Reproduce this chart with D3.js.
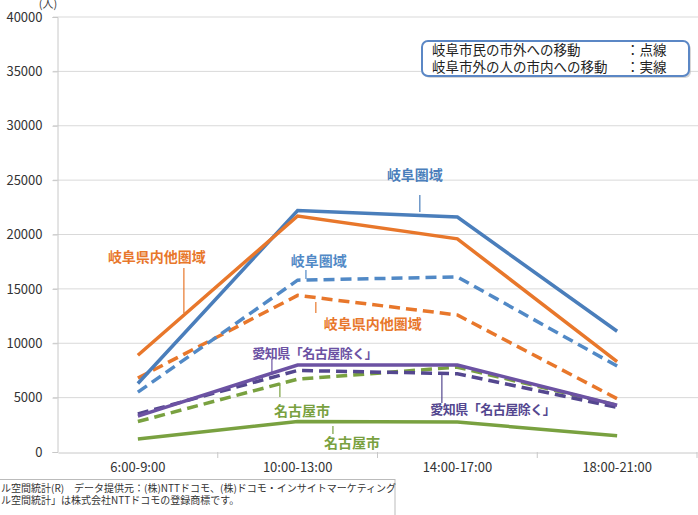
<!DOCTYPE html>
<html>
  <head>
    <meta charset="utf-8">
    <title>岐阜市 移動人口</title>
    <style>
      body { margin: 0; background: #fff; }
      text { font-family: "Noto Sans CJK JP", "Noto Sans", sans-serif; }
      .tick text { fill: #333; font-size: 13px; }
    </style>
    <script src="https://d3js.org/d3.v7.min.js"></script>
  </head>
  <body>
    <div id="chart"></div>
    <script type="text/javascript">
      // categories and values (人)
      var categories = ["6:00-9:00", "10:00-13:00", "14:00-17:00", "18:00-21:00"];
      var yTicks = [0, 5000, 10000, 15000, 20000, 25000, 30000, 35000, 40000];

      // 岐阜市外の人の市内への移動 (solid)
      var gifuIn      = [6300, 22200, 21600, 11100];
      var gifuPrefIn  = [8900, 21700, 19600, 8300];
      var aichiIn     = [3300, 8000, 8000, 4300];
      var nagoyaIn    = [1200, 2800, 2750, 1500];
      // 岐阜市民の市外への移動 (dashed)
      var gifuOut     = [5500, 15800, 16100, 7900];
      var gifuPrefOut = [6800, 14400, 12600, 4900];
      var aichiOut    = [3500, 7500, 7200, 4100];
      var nagoyaOut   = [2800, 6700, 7800, 4300];

      var legendLines = ["岐阜市民の市外への移動", "岐阜市外の人の市内への移動"];
      var legendKinds = ["：点線", "：実線"];
      var notes = ["ル空間統計(R)　データ提供元：(株)NTTドコモ、(株)ドコモ・インサイトマーケティング",
                   "ル空間統計」は株式会社NTTドコモの登録商標です。"];

      var width = 698, height = 515;
      var blue = "#4a7ebb", blueD = "#5189c6", orange = "#e8772b",
          purple = "#6c52a3", purpleD = "#54478f", green = "#79a140";

      var series = [
        {v: nagoyaIn, c: green, dash: null},
        {v: nagoyaOut, c: green, dash: "11,6"},
        {v: aichiOut, c: purpleD, dash: "11,6"},
        {v: aichiIn, c: purple, dash: null},
        {v: gifuPrefOut, c: orange, dash: "11,6"},
        {v: gifuOut, c: blueD, dash: "11,6"},
        {v: gifuIn, c: blue, dash: null},
        {v: gifuPrefIn, c: orange, dash: null}
      ];

      // label: text, colour, text position (category index, value), leader (index, from, to)
      var labels = [
        {t: "岐阜圏域", c: blue, ix: 1.734, ty: 25470, lx: 1.765, l1: 23630, l2: 22070},
        {t: "岐阜県内他圏域", c: orange, ix: 0.119, ty: 17930, lx: 0.288, l1: 16920, l2: 12780},
        {t: "岐阜圏域", c: blueD, ix: 1.133, ty: 17560, lx: 1.052, l1: 16740, l2: 15910},
        {t: "岐阜県内他圏域", c: orange, ix: 1.471, ty: 11770, lx: 1.114, l1: 13790, l2: 12780},
        {t: "愛知県「名古屋除く」", c: purple, ix: 1.108, ty: 9100, lx: 0.839, l1: 8550, l2: 7260},
        {t: "名古屋市", c: green, ix: 1.027, ty: 3770, lx: 0.889, l1: 6340, l2: 5060},
        {t: "名古屋市", c: green, ix: 1.340, ty: 830, lx: 1.221, l1: 2390, l2: 1660},
        {t: "愛知県「名古屋除く」", c: purpleD, ix: 2.222, ty: 3950, lx: 1.903, l1: 7080, l2: 4510}
      ];

      var svg = d3.select("#chart").append("svg")
        .attr("width", width)
        .attr("height", height);

      var x = d3.scaleBand().domain(categories).range([58, 697]);
      var y = d3.scaleLinear().domain([0, 40000]).range([452, 17]);
      var xi = function(i) { return x(categories[0]) + x.bandwidth() / 2 + i * x.bandwidth(); };

      // gridlines
      svg.append("g").selectAll("line")
        .data(yTicks.slice(1))
        .enter().append("line")
        .attr("x1", 53).attr("x2", 698)
        .attr("y1", function(d) { return y(d); })
        .attr("y2", function(d) { return y(d); })
        .style("stroke", "#d9d9d9");

      var yAxis = svg.append("g")
        .attr("transform", "translate(57.5,0)")
        .call(d3.axisLeft(y).tickValues(yTicks).tickSize(5).tickPadding(10).tickFormat(d3.format("d")));
      yAxis.select(".domain").style("stroke", "#c8c8c8");
      yAxis.selectAll(".tick line").style("stroke", "#c8c8c8");

      var xAxis = svg.append("g")
        .attr("transform", "translate(0,452.5)")
        .call(d3.axisBottom(x).tickSize(0).tickPadding(10));
      xAxis.select(".domain").style("stroke", "#c8c8c8");
      xAxis.selectAll(".tick text").style("font-size", "13px");
      svg.append("g").selectAll("line")
        .data(categories)
        .enter().append("line")
        .attr("x1", function(d) { return x(d) + x.bandwidth(); })
        .attr("x2", function(d) { return x(d) + x.bandwidth(); })
        .attr("y1", 452).attr("y2", 458)
        .style("stroke", "#c8c8c8");

      svg.append("text")
        .attr("x", 48).attr("y", 8)
        .attr("text-anchor", "middle")
        .style("font-size", "11px").style("fill", "#404040")
        .text("(人)");

      // lines
      var line = d3.line()
        .x(function(d, i) { return x(categories[i]) + x.bandwidth() / 2; })
        .y(function(d) { return y(d); });

      svg.append("g").selectAll("path")
        .data(series)
        .enter().append("path")
        .attr("d", function(d) { return line(d.v); })
        .style("fill", "none")
        .style("stroke", function(d) { return d.c; })
        .style("stroke-width", 3.5)
        .style("stroke-dasharray", function(d) { return d.dash; });

      // labels
      var lab = svg.append("g").selectAll("g")
        .data(labels)
        .enter().append("g");
      lab.append("line")
        .attr("x1", function(d) { return xi(d.lx); })
        .attr("x2", function(d) { return xi(d.lx); })
        .attr("y1", function(d) { return y(d.l1); })
        .attr("y2", function(d) { return y(d.l2); })
        .style("stroke", function(d) { return d.c; })
        .style("stroke-width", 1.2);
      lab.append("text")
        .attr("x", function(d) { return xi(d.ix); })
        .attr("y", function(d) { return y(d.ty); })
        .attr("text-anchor", "middle")
        .attr("dy", "0.35em")
        .style("font-size", function(d) { return d.t.length > 8 ? "13px" : "14px"; })
        .style("letter-spacing", function(d) { return d.t.length > 8 ? "-0.5px" : "0px"; })
        .style("font-weight", "bold")
        .style("fill", function(d) { return d.c; })
        .text(function(d) { return d.t; });

      // legend box
      svg.append("rect")
        .attr("x", 424).attr("y", 43).attr("width", 267).attr("height", 35)
        .attr("rx", 6)
        .style("fill", "#bdbdbd").style("opacity", 0.6);
      svg.append("rect")
        .attr("x", 422).attr("y", 41).attr("width", 267).attr("height", 35)
        .attr("rx", 6)
        .style("fill", "#fff").style("stroke", "#5b87c5").style("stroke-width", 2);
      var leg = svg.append("g").selectAll("g")
        .data(legendLines)
        .enter().append("g");
      leg.append("text")
        .attr("x", 432)
        .attr("y", function(d, i) { return 50 + i * 17; })
        .attr("dy", "0.35em")
        .style("font-size", "13.5px").style("fill", "#222")
        .text(function(d) { return d; });
      leg.append("text")
        .attr("x", 626)
        .attr("y", function(d, i) { return 50 + i * 17; })
        .attr("dy", "0.35em")
        .style("font-size", "13.5px").style("fill", "#222")
        .text(function(d, i) { return legendKinds[i]; });

      // source note
      svg.append("rect")
        .attr("x", -5).attr("y", 479.5).attr("width", 400).attr("height", 50)
        .style("fill", "#fff").style("stroke", "#bbb");
      svg.append("g").selectAll("text")
        .data(notes)
        .enter().append("text")
        .attr("x", 1)
        .attr("y", function(d, i) { return 488 + i * 12.5; })
        .attr("dy", "0.35em")
        .style("font-size", "10px").style("fill", "#333")
        .text(function(d) { return d; });
    </script>
  </body>
</html>
